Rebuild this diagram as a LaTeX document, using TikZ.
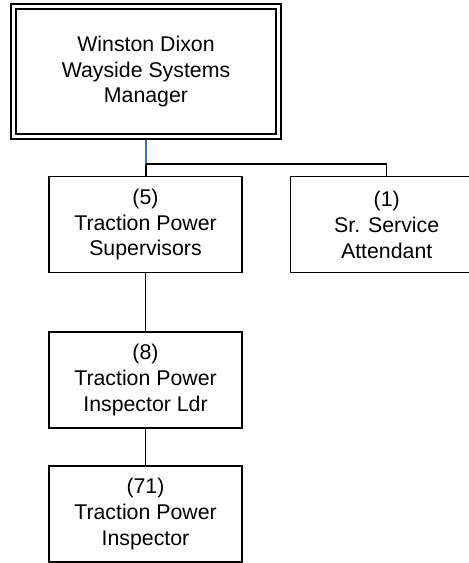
\documentclass[tikz,border=0pt]{standalone}
\usepackage{fontspec}
\setmainfont{Liberation Sans}
\usepackage{xcolor}
\definecolor{linkblue}{HTML}{4472C4}
\tikzset{
  every picture/.style={line join=miter, line cap=butt},
  post/.style={draw, line width=1.2pt, minimum width=193, minimum height=96, align=center,
    inner sep=0pt, font=\fontsize{21.3}{25.7}\selectfont},
  head/.style={post, double, double distance=3.8pt, minimum width=265, minimum height=130},
  link/.style={line width=1.2pt},
}

\begin{document}
\begin{tikzpicture}[x=1pt,y=-1pt]
\useasboundingbox (0,0) rectangle (469,563);
\node[head](mgr) at (146,71.5) {Winston Dixon\\Wayside Systems\\Manager};
\node[post](sup) at (145.5,224.7) {(5)\\Traction Power\\Supervisors};
\node[post](att) at (386.7,224.7) {(1)\\Sr. Service\\Attendant};
\node[post](ldr) at (145.5,380) {(8)\\Traction Power\\Inspector Ldr};
\node[post](insp) at (145.5,514) {(71)\\Traction Power\\Inspector};
\coordinate (bus) at (146,164);
\draw[link,linkblue,shorten <=2.6pt](mgr.south)--(bus);
\draw[link](bus)-|(att.north);
\draw[link](bus)--(bus|-sup.north);
\draw[link](sup)--(ldr);
\draw[link](ldr)--(insp);
\end{tikzpicture}
\end{document}
